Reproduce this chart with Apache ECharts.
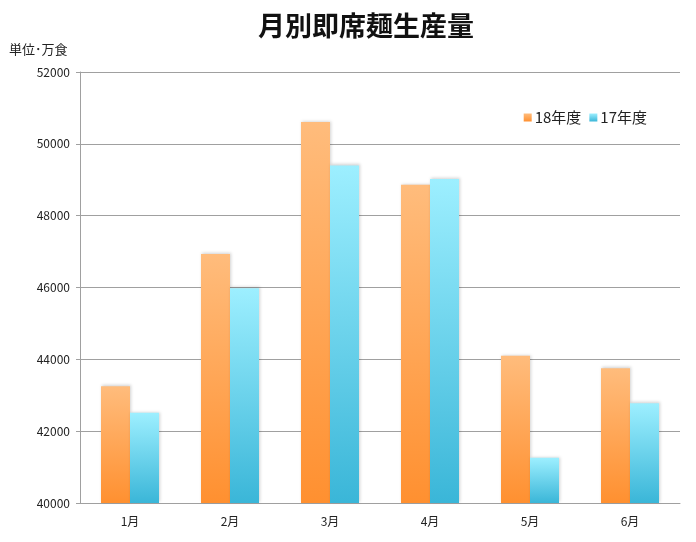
<!DOCTYPE html>
<html>
<head>
<meta charset="utf-8">
<script src="https://cdn.jsdelivr.net/npm/echarts@6/dist/echarts.min.js"></script>
<style>html,body{margin:0;padding:0;background:#fff;}#c{width:696px;height:542px;}</style>
</head>
<body>
<div id="c"></div>
<script>
const categories = ['1月','2月','3月','4月','5月','6月'];
const fy18 = [43250, 46930, 50610, 48860, 44100, 43750];
const fy17 = [42510, 45980, 49400, 49020, 41260, 42780];
const seriesNames = ['18年度','17年度'];
const yMin = 40000, yMax = 52000, yStep = 2000;

const FONT = '"Noto Sans CJK JP", "Noto Sans", sans-serif';
const chart = echarts.init(document.getElementById('c'));
function grad(top, bottom) {
  return new echarts.graphic.LinearGradient(0, 0, 0, 1, [
    {offset: 0, color: top}, {offset: 1, color: bottom}
  ]);
}
chart.setOption({
  animation: false,
  backgroundColor: '#fff',
  title: [
    {text: '月別即席麺生産量', left: 361, top: 7, textAlign: 'center',
     textStyle: {fontFamily: FONT, fontSize: 27, fontWeight: 'bold', color: '#111'}},
    {text: '単位･万食', left: 4, top: 38,
     textStyle: {fontFamily: FONT, fontSize: 13, fontWeight: 'normal', color: '#222'}}
  ],
  legend: {
    data: seriesNames, right: 44, top: 105, itemWidth: 8, itemHeight: 8, itemGap: 8,
    icon: 'rect',
    textStyle: {fontFamily: FONT, fontSize: 15, color: '#222', padding: [0,0,0,-2]}
  },
  grid: {left: 80, right: 16, top: 72, bottom: 39, containLabel: false},
  xAxis: {
    type: 'category', data: categories,
    axisLine: {lineStyle: {color: '#A0A0A0'}},
    axisTick: {show: false},
    axisLabel: {fontFamily: FONT, fontSize: 12, color: '#222', margin: 12}
  },
  yAxis: {
    type: 'value', min: yMin, max: yMax, interval: yStep,
    axisLine: {show: true, lineStyle: {color: '#A0A0A0'}},
    axisTick: {show: true, length: 4, lineStyle: {color: '#A0A0A0'}},
    splitLine: {lineStyle: {color: '#A0A0A0'}},
    axisLabel: {fontFamily: FONT, fontSize: 12, color: '#222', margin: 10,
      formatter: function (v) { return String(v); }}
  },
  series: [
    {name: seriesNames[0], type: 'bar', data: fy18, barWidth: 29, barGap: '0%',
     itemStyle: {color: grad('#FFBC7C', '#FF9030'), shadowColor: 'rgba(0,0,0,0.18)', shadowBlur: 3, shadowOffsetX: 1, shadowOffsetY: -1}},
    {name: seriesNames[1], type: 'bar', data: fy17, barWidth: 29, barGap: '0%',
     itemStyle: {color: grad('#9DEFFF', '#3AB6D8'), shadowColor: 'rgba(0,0,0,0.18)', shadowBlur: 3, shadowOffsetX: 1, shadowOffsetY: -1}}
  ]
});
</script>
</body>
</html>
